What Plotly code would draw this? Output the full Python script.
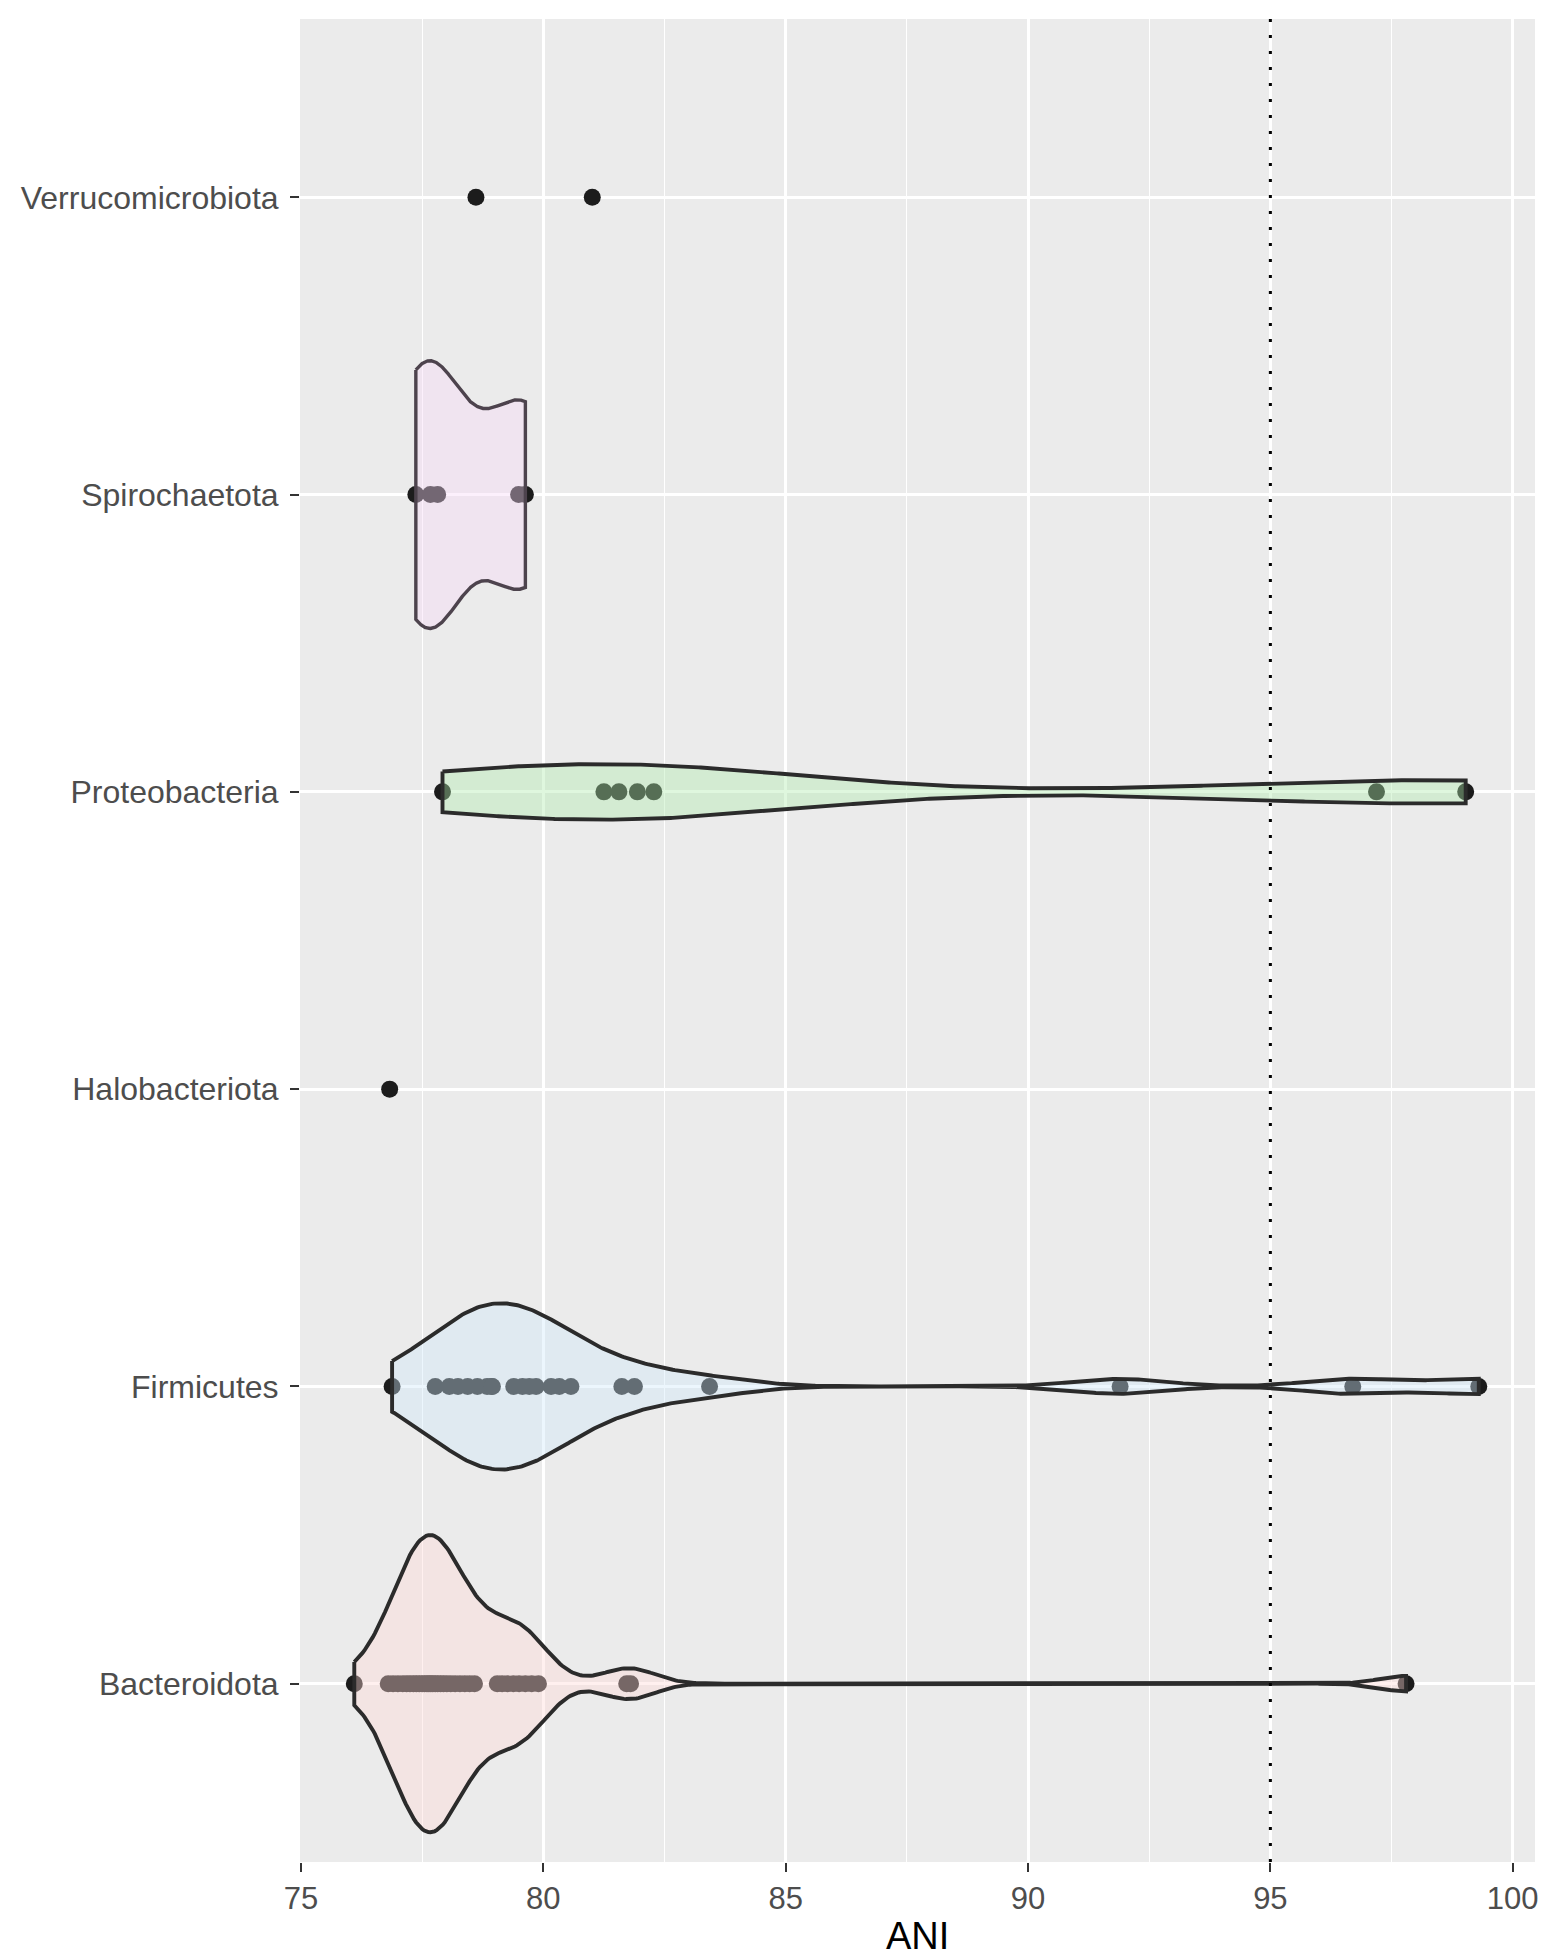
import numpy as np
import plotly.graph_objects as go

# Phyla from bottom to top of the y axis
phyla = ["Bacteroidota", "Firmicutes", "Halobacteriota",
         "Proteobacteria", "Spirochaetota", "Verrucomicrobiota"]

# ANI (%) of each genome against its closest reference, per phylum
bacteroidota_ani = [76.10,
                    76.80, 76.90, 77.00, 77.10, 77.18, 77.25, 77.32, 77.38, 77.44,
                    77.50, 77.55, 77.60, 77.64, 77.68, 77.72, 77.77, 77.82, 77.88,
                    77.94, 78.01, 78.09, 78.18, 78.28, 78.38, 78.48, 78.58,
                    79.05, 79.15, 79.26, 79.38, 79.50, 79.63, 79.76, 79.90,
                    81.72, 81.80, 97.80]
firmicutes_ani = [76.88, 77.77, 78.06, 78.24, 78.44, 78.64, 78.84, 78.93, 78.95,
                  79.39, 79.57, 79.71, 79.85, 80.16, 80.33, 80.57,
                  81.62, 81.88, 83.43, 91.90, 96.70, 99.30]
halobacteriota_ani = [76.83]
proteobacteria_ani = [77.92, 81.25, 81.56, 81.94, 82.28, 97.19, 99.03]
spirochaetota_ani = [77.37, 77.67, 77.82, 79.49, 79.63]
verrucomicrobiota_ani = [78.61, 81.01]

ani_values = [bacteroidota_ani, firmicutes_ani, halobacteriota_ani,
              proteobacteria_ani, spirochaetota_ani, verrucomicrobiota_ani]

# Violin fills (drawn translucent) and outlines
fill_rgb = {"Bacteroidota": (255, 218, 215), "Firmicutes": (207, 232, 250),
            "Proteobacteria": (175, 236, 172), "Spirochaetota": (247, 217, 247)}
outline_colors = {"Bacteroidota": "#2b2b2b", "Firmicutes": "#2b2b2b",
                  "Proteobacteria": "#2b2b2b", "Spirochaetota": "#4d434d"}
fill_alpha = 0.4

x_ticks = [75, 80, 85, 90, 95, 100]
species_cutoff = 95


def bw_nrd0(x):
    x = np.asarray(x, float)
    hi = np.std(x, ddof=1)
    q75, q25 = np.percentile(x, [75, 25])
    lo = min(hi, (q75 - q25) / 1.34)
    if lo <= 0:
        lo = hi if hi > 0 else 1.0
    return 0.9 * lo * len(x) ** -0.2


def trimmed_kde(x, n=512):
    x = np.asarray(x, float)
    bw = bw_nrd0(x)
    grid = np.linspace(x.min(), x.max(), n)
    z = (grid[:, None] - x[None, :]) / bw
    dens = np.exp(-0.5 * z ** 2).sum(axis=1) / (len(x) * bw * np.sqrt(2 * np.pi))
    return grid, dens


# Densities for the phyla with enough genomes; scaled to equal area
densities = {}
for name, vals in zip(phyla, ani_values):
    if len(vals) >= 3:
        densities[name] = trimmed_kde(vals)
dens_max = max(d.max() for _, d in densities.values())
half_width = 0.5

fig = go.Figure()

# Genome points (underneath the violins)
for i, (name, vals) in enumerate(zip(phyla, ani_values)):
    fig.add_trace(go.Scatter(
        x=vals, y=[i] * len(vals), mode="markers",
        marker=dict(size=17, color="#1c1c1c", line=dict(width=0)),
        name=name, showlegend=False, hoverinfo="x+text", text=[name] * len(vals)))

# Violins
for i, name in enumerate(phyla):
    if name not in densities:
        continue
    grid, dens = densities[name]
    w = half_width * dens / dens_max
    xs = np.concatenate([grid, grid[::-1], grid[:1]])
    ys = np.concatenate([i + w, (i - w)[::-1], [i + w[0]]])
    r, g, b = fill_rgb[name]
    fig.add_trace(go.Scatter(
        x=xs, y=ys, mode="lines", fill="toself",
        fillcolor=f"rgba({r},{g},{b},{fill_alpha})",
        line=dict(color=outline_colors[name], width=3.9 if name != "Spirochaetota" else 3.4),
        showlegend=False, hoverinfo="skip"))

# Species boundary
fig.add_shape(type="line", x0=species_cutoff, x1=species_cutoff, xref="x",
              y0=0, y1=1, yref="paper", layer="above",
              line=dict(color="black", width=3, dash="3px,13px"))

plot_top, plot_bottom = 19, 98
plot_h = 1960 - plot_top - plot_bottom

fig.add_annotation(text="ANI", xref="paper", yref="paper", x=0.5,
                   y=-(1936 - (1960 - plot_bottom)) / plot_h, yanchor="middle",
                   showarrow=False, font=dict(size=38, color="black"))

fig.update_layout(
    width=1545, height=1960,
    margin=dict(l=300, r=10, t=plot_top, b=plot_bottom, pad=0, autoexpand=False),
    paper_bgcolor="white", plot_bgcolor="#EBEBEB",
    font=dict(family="Liberation Sans, Arial, sans-serif", color="#4D4D4D"),
    showlegend=False,
)
fig.update_xaxes(
    range=[74.98, 100.46], tickvals=x_ticks, tick0=75, dtick=5, automargin=False,
    ticks="outside", ticklen=9, tickwidth=2.2, tickcolor="#333333",
    tickfont=dict(size=31, color="#4D4D4D"),
    showgrid=True, gridcolor="white", gridwidth=2.5, zeroline=False, showline=False,
    minor=dict(tick0=75, dtick=2.5, showgrid=True, gridcolor="white", gridwidth=1.2),
)
fig.update_yaxes(
    range=[-0.6, 5.6], tickvals=list(range(len(phyla))), ticktext=phyla, automargin=False,
    ticks="outside", ticklen=9, tickwidth=2.2, tickcolor="#333333",
    tickfont=dict(size=32, color="#4D4D4D"), ticklabelstandoff=5,
    showgrid=True, gridcolor="white", gridwidth=2.5, zeroline=False, showline=False,
)

fig.write_html("out.html")
